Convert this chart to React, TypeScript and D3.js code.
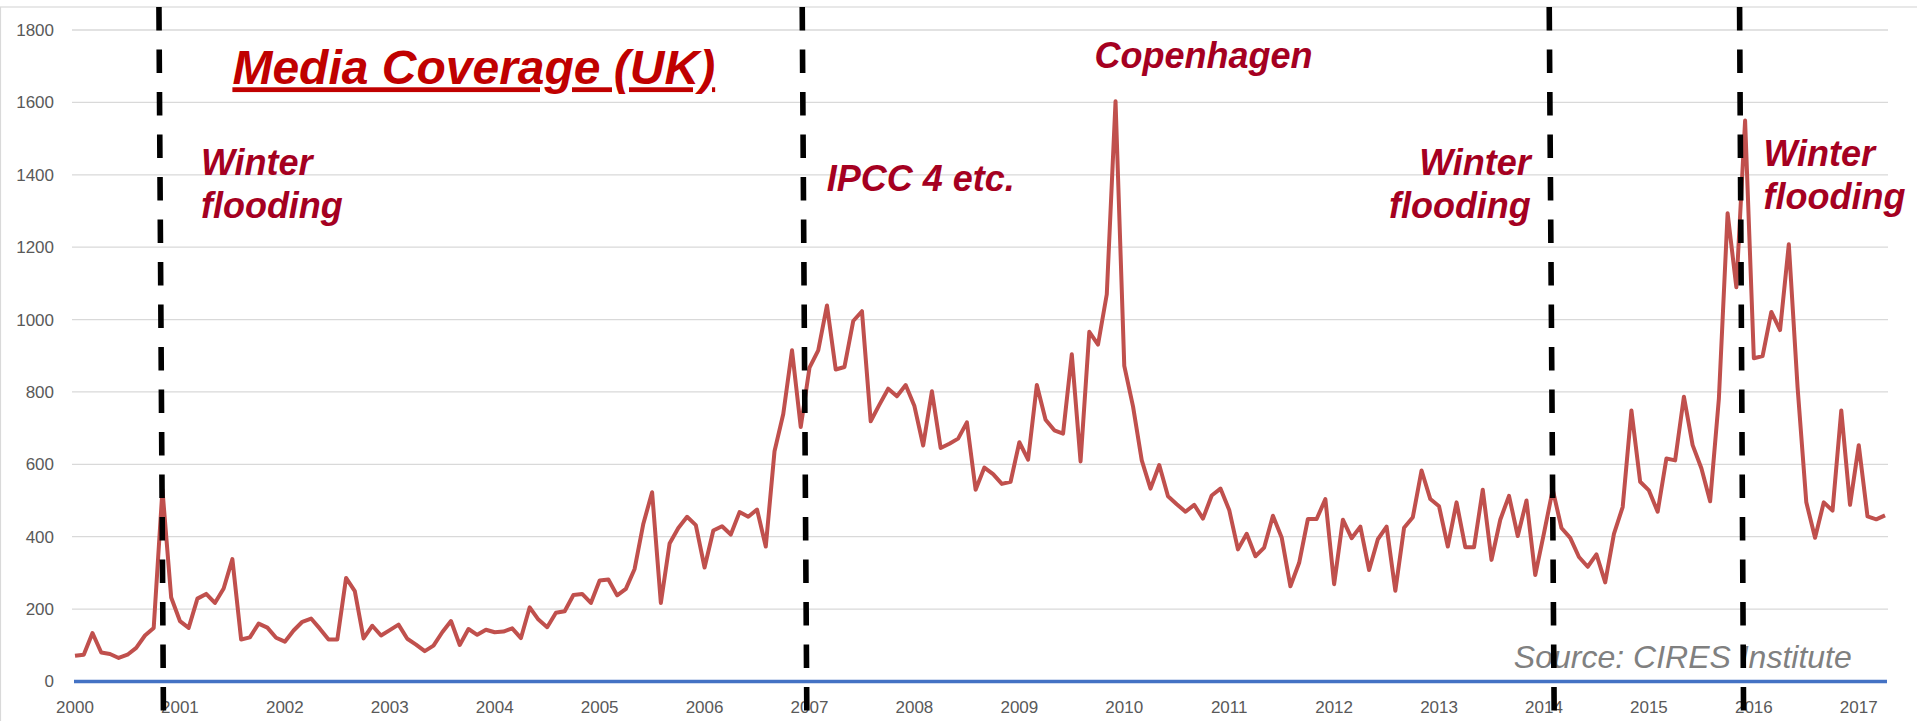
import React from 'react';
import * as d3 from 'd3';

// monthly article counts, Jan 2000 .. Apr 2017 (one row per year)
const monthlyCoverage = [
  71, 74, 134, 80, 76, 65, 74, 93, 127, 148, 530, 232,
  167, 148, 229, 242, 217, 257, 338, 116, 122, 160, 149, 121,
  110, 141, 165, 174, 146, 116, 116, 286, 250, 119, 154, 127,
  142, 157, 118, 102, 84, 99, 136, 167, 101, 145, 129, 143,
  136, 138, 147, 120, 205, 171, 150, 190, 194, 239, 242, 217,
  279, 282, 238, 256, 311, 436, 523, 217, 381, 424, 455, 432,
  315, 417, 429, 406, 468, 455, 475, 373, 636, 739, 915, 703,
  867, 915, 1039, 862, 869, 996, 1023, 719, 765, 809, 788, 819,
  761, 652, 802, 645, 657, 671, 716, 530, 591, 573, 546, 552,
  661, 613, 819, 723, 694, 685, 904, 608, 966, 931, 1070, 1603,
  872, 760, 611, 533, 598, 512, 490, 469, 488, 450, 514, 533,
  474, 365, 408, 346, 370, 458, 398, 263, 328, 449, 449, 504,
  269, 447, 396, 428, 308, 393, 428, 251, 425, 454, 583, 504,
  484, 373, 495, 371, 371, 530, 336, 447, 513, 402, 500, 294,
  410, 530, 424, 397, 344, 317, 351, 274, 408, 482, 749, 552,
  528, 469, 616, 611, 787, 653, 589, 498, 781, 1294, 1089, 1550,
  893, 899, 1021, 971, 1208, 813, 495, 397, 495, 472, 749, 488,
  653, 456, 448, 459,
];

const yearLabels = ['2000', '2001', '2002', '2003', '2004', '2005', '2006', '2007', '2008',
  '2009', '2010', '2011', '2012', '2013', '2014', '2015', '2016', '2017'];
const yTicks = [0, 200, 400, 600, 800, 1000, 1200, 1400, 1600, 1800];

// event markers (month index, hand drawn so slightly slanted)
const markerTop = [9.6, 83.17, 168.6, 190.37];
const markerBottom = [10.12, 83.7, 169.17, 190.83];

// annotation text, placed in data coordinates (month, value)
const noteLines = [
  ['Winter', 'flooding'],
  ['IPCC 4 etc.'],
  ['Copenhagen'],
  ['Winter', 'flooding'],
  ['Winter', 'flooding'],
];
const noteMonth = [14.4, 85.96, 116.6, 166.5, 193.1];
const noteValue = [1400, 1355, 1695, 1399, 1424];
const noteAnchor = ['start', 'start', 'start', 'end', 'start'];

const font = "'Liberation Sans', Arial, sans-serif";

export default function App() {
  const width = 1917;
  const height = 721;
  const plotLeft = 72;
  const plotRight = 1888;

  const x = d3.scaleLinear().domain([0, monthlyCoverage.length - 1]).range([75, 1885]);
  const y = d3.scaleLinear().domain([0, 1800]).range([681.5, 30]);

  const line = d3.line<number>()
    .x((_, i) => x(i))
    .y(d => y(d));

  return (
    <svg width={width} height={height}
      style={{ position: 'absolute', left: 0, top: 0, display: 'block', background: '#fff' }}>
      <rect x={0.5} y={7} width={width + 20} height={height + 20} fill="#fff" stroke="#d9d9d9" strokeWidth={1.2} />

      {yTicks.slice(1).map(t => (
        <line key={t} x1={plotLeft} x2={plotRight} y1={y(t)} y2={y(t)} stroke="#d9d9d9" strokeWidth={1.3} />
      ))}

      {yTicks.map(t => (
        <text key={t} x={54} y={y(t)} dy="0.35em" textAnchor="end"
          fontFamily={font} fontSize={17} fill="#595959">{t}</text>
      ))}

      {yearLabels.map((yr, k) => (
        <text key={yr} x={x(k * 12)} y={713} textAnchor="middle"
          fontFamily={font} fontSize={17} fill="#595959">{yr}</text>
      ))}

      <text x={x(18)} y={y(1650)} fontFamily={font} fontSize={48} fontWeight="bold" fontStyle="italic"
        fill="#C00000" textDecoration="underline">Media Coverage (UK)</text>

      {noteLines.map((lines, n) => (
        <text key={n} x={x(noteMonth[n])} y={y(noteValue[n])} textAnchor={noteAnchor[n]}
          fontFamily={font} fontSize={36} fontWeight="bold" fontStyle="italic" fill="#A50021">
          {lines.map((s, j) => (
            <tspan key={j} x={x(noteMonth[n])} dy={j === 0 ? 0 : 43}>{s}</tspan>
          ))}
        </text>
      ))}

      <text x={x(203.2)} y={y(37)} textAnchor="end" fontFamily={font} fontSize={32}
        fontStyle="italic" fill="#808080">Source: CIRES Institute</text>

      <path d={line(monthlyCoverage) ?? ''} fill="none" stroke="#C0504D" strokeWidth={4}
        strokeLinejoin="round" />

      <line x1={74} x2={1887} y1={y(0)} y2={y(0)} stroke="#4472C4" strokeWidth={3.5} />

      {markerTop.map((m, k) => (
        <line key={k} x1={x(m)} x2={x(markerBottom[k])} y1={7} y2={height}
          stroke="#000" strokeWidth={5.6} strokeDasharray="23.5 19" />
      ))}
    </svg>
  );
}
